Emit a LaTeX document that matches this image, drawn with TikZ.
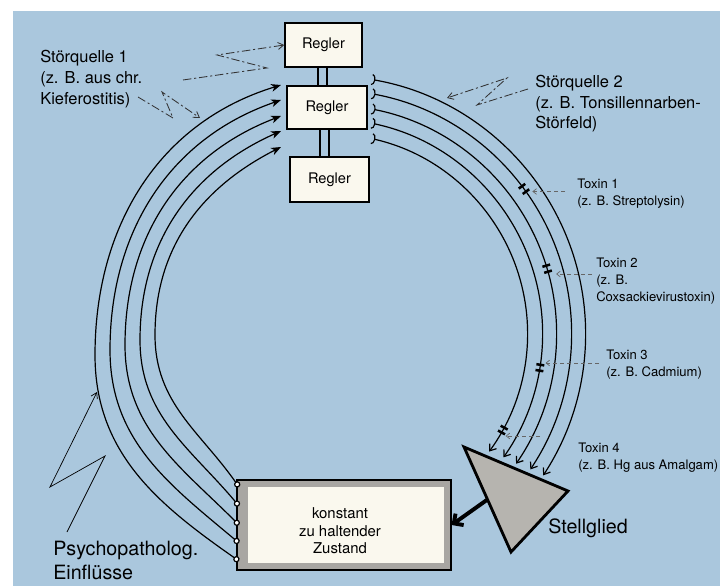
\documentclass[tikz,border=0pt]{standalone}
\usepackage{fontspec}
\setmainfont{TeX Gyre Heros}
\usetikzlibrary{arrows.meta,calc}

\definecolor{bgblue}{RGB}{170,199,221}
\definecolor{paper}{RGB}{250,248,238}
\definecolor{framegray}{RGB}{168,166,162}
\definecolor{trigray}{RGB}{182,180,175}

\begin{document}
\begin{tikzpicture}[x=0.025cm,y=0.025cm,
  regler/.style={draw,line width=1pt,fill=paper,inner sep=0pt,font=\fontsize{10.4}{12}\selectfont},
  bigtext/.style={anchor=north west,align=left,inner sep=0pt,font=\fontsize{11.7}{15}\selectfont},
  toxin/.style={anchor=north west,align=left,inner sep=0pt,font=\fontsize{9.3}{12}\selectfont},
  afferent/.style={line width=0.85pt,{Circle[open,fill=white,length=4.5pt,width=4.5pt]}-{Stealth[length=7pt,width=5.5pt,inset=2pt]}},
  efferent/.style={line width=0.85pt,{Arc Barb[reversed,length=2.5pt,width=8pt]}-{Straight Barb[length=4pt,width=6pt]}},
  block/.style={line width=1.8pt},
  toxline/.style={densely dashed,black!60,line width=0.5pt,-{Straight Barb[length=2.5pt,width=4pt]}},
  stoer/.style={dash pattern=on 6pt off 2pt on 1.5pt off 2pt,black!80,line width=0.6pt,-{Straight Barb[length=4pt,width=5pt]}}]
\useasboundingbox (0,0) rectangle (720,586);
\fill[white] (0,0) rectangle (720,586);
\fill[bgblue] (13,0) rectangle (720,575);

% Regler
\node[regler,minimum width=1.925cm,minimum height=1.1cm] (ra) at (323.5,541) {Regler};
\node[regler,minimum width=2cm,minimum height=1.075cm] (rb) at (327,478.5) {Regler};
\node[regler,minimum width=1.975cm,minimum height=1.125cm] (rc) at (329.5,406.5) {Regler};
\draw[line width=0.9pt]
  ([xshift=-0.14cm]ra.south) -- ([xshift=-0.14cm]ra.south |- rb.north)
  ([xshift=0.09cm]ra.south) -- ([xshift=0.09cm]ra.south |- rb.north)
  ([xshift=-0.175cm]rb.south) -- ([xshift=-0.175cm]rb.south |- rc.north)
  ([xshift=0.05cm]rb.south) -- ([xshift=0.05cm]rb.south |- rc.north);

% zu haltender Zustand
\node[draw,line width=0.8pt,fill=framegray,minimum width=5.35cm,minimum height=2.25cm,inner sep=0pt] (zs) at (344,61) {};
\fill[paper] ([shift={(12,8)}]zs.south west) rectangle ([shift={(-8,-8)}]zs.north east);
\node[font=\fontsize{10.6}{12.4}\selectfont,align=center,inner sep=0pt] (zt) at (340,55) {konstant\\zu haltender\\Zustand};

% Stellglied
\draw[line width=2pt,fill=trigray,line join=miter]
  (464,139) coordinate (ta) -- (568,95) coordinate (tb) -- (511,34) coordinate (tc) -- cycle;
\coordinate (sg) at ($(ta)!0.5!(tc)$);
\draw[line width=2.8pt,-{Straight Barb[length=5pt,width=10pt]}] (sg) -- (zs.east);
\node[anchor=north west,inner sep=0pt,font=\fontsize{14}{17}\selectfont] (sgl) at (548,67) {Stellglied};

% Regler -> Stellglied
\coordinate (ctr) at (327.6,252.3);
\foreach \r/\a/\e [count=\i] in {258/80.1/-33.3,244/79.5/-33.8,229/78.8/-34.6,215/78.1/-35.1,200/77.2/-36.1} {
  \path (ctr) ++(\a:\r) coordinate (s\i);
  \draw[efferent] (s\i) arc[start angle=\a,end angle=\e,radius=\r];
}

% Zustand -> Regler
\foreach \sy/\mx/\my/\ty/\o/\n [count=\i] in {25/95/231/501/145/197,43/110/236/486/140/199,61/125/241/470/135/201,80/140/246/455/130/204,99/155/251/439/125/207} {
  \coordinate (zin\i) at (239,\sy);
  \coordinate (rin\i) at (281,\ty);
  \draw[afferent] (zin\i) to[out=\o,in=-90] (\mx,\my) to[out=90,in=\n] (rin\i);
}

% Toxine
\foreach \r/\a [count=\i] in {244/36.4,229/16.5,215/-9.1,200/-28.8} {
  \path (ctr) ++(\a:\r) coordinate (m\i);
  \draw[block] ($(ctr)+({\a+0.8}:{\r-4})$) -- ++(\a:8);
  \draw[block] ($(ctr)+({\a-0.8}:{\r-4})$) -- ++(\a:8);
}
\node[toxin] (tx1) at (577,407.5) {Toxin 1\\(z. B. Streptolysin)};
\node[toxin] (tx2) at (596,328) {Toxin 2\\(z. B.\\Coxsackievirustoxin)};
\node[toxin] (tx3) at (606,236) {Toxin 3\\(z. B. Cadmium)};
\node[toxin] (tx4) at (578,143) {Toxin 4\\(z. B. Hg aus Amalgam)};
\draw[toxline,shorten >=6pt] ([shift={(-12,-13)}]tx1.north west) coordinate (d1) -- (d1 -| m1);
\draw[toxline,shorten >=6.4pt] ([shift={(-4,-16)}]tx2.north west) coordinate (d2) -- (d2 -| m2);
\draw[toxline,shorten >=4pt] ([shift={(-7,-13)}]tx3.north west) coordinate (d3) -- (d3 -| m3);
\draw[toxline,shorten >=2pt] ([shift={(-38,7)}]tx4.north west) coordinate (d4) -- (d4 -| m4);

% Stoerquellen
\node[bigtext] (sq1) at (40,536) {Störquelle 1\\(z. B. aus chr.\\Kieferostitis)};
\node[bigtext,font=\fontsize{11.7}{14.7}\selectfont] (sq2) at (535,511) {Störquelle 2\\(z. B. Tonsillennarben-\\Störfeld)};
\node[anchor=north west,align=left,inner sep=0pt,font=\fontsize{14}{17}\selectfont] (psy) at (53,45) {Psychopatholog.\\Einflüsse};
\coordinate (z1) at (183,506);
\draw[stoer] (z1) -- (267,518) -- (217,531) -- (ra.west);
\coordinate (z2) at (138,489);
\coordinate (h1) at (200,468);
\draw[stoer] (z2) -- (173,468) -- (162,494) -- (h1);
\coordinate (z3) at (528,497);
\coordinate (h2) at (447,488);
\draw[stoer] (z3) -- (477,481) -- (507,508) -- (h2);
\coordinate (z4) at (67,54);
\coordinate (h3) at (97,194);
\draw[line width=0.5pt,-{Straight Barb[length=4pt,width=5pt]}] (z4) -- (105,130) -- (50,99) -- (h3);
\end{tikzpicture}
\end{document}
